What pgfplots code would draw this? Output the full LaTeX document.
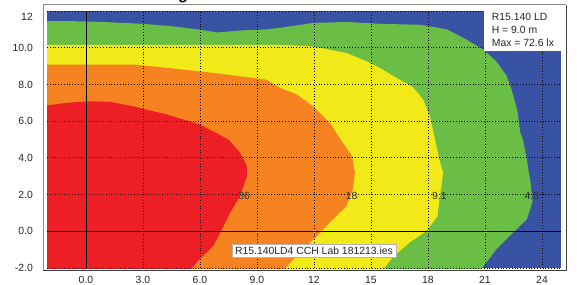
\documentclass[border=0pt]{standalone}
\usepackage{pgfplots}
\pgfplotsset{compat=1.18}
\usepackage{fontspec}
\setmainfont{Liberation Sans}
\definecolor{cblue}{RGB}{57,83,164}
\definecolor{cgreen}{RGB}{106,189,69}
\definecolor{cyellow}{RGB}{241,233,24}
\definecolor{corange}{RGB}{246,130,32}
\definecolor{cred}{RGB}{237,31,36}
\newcommand{\fsz}{\fontsize{10.4}{12}\selectfont}
\begin{document}
\begin{tikzpicture}[x=1pt,y=1pt]
\path[use as bounding box] (0,0) rectangle (577,284);
\node[anchor=base, font=\fontsize{16}{18}\selectfont\bfseries] at (183,284) {g};
\draw[black!45, line width=1pt] (43,14) -- (43,279) -- (566,279);
\draw[black!75, line width=1pt] (43,14) -- (566,14) -- (566,279);
\begin{axis}[at={(47pt,16pt)}, anchor=south west, scale only axis,
  width=514pt, height=257pt,
  xmin=-2.05, xmax=25, ymin=-2, ymax=12,
  axis background/.style={fill=cblue},
  axis line style={draw=none},
  axis on top,
  xtick={0,3,...,24}, xticklabels={0.0,3.0,6.0,9.0,12,15,18,21,24},
  ytick={-2,0,...,10}, yticklabels={-2.0,0.0,2.0,4.0,6.0,8.0,10.0},
  extra y ticks={12}, extra y tick labels={12},
  extra y tick style={grid=major, yticklabel style={yshift=-6pt}},
  major tick length=0pt,
  grid=major,
  grid style={black, line width=0.8pt, dash pattern=on 0.8pt off 2pt},
  tick label style={font=\fsz, text=black!85},
  xticklabel style={anchor=base, yshift=-15pt, inner sep=0pt},
  yticklabel style={anchor=east, xshift=-14pt, inner sep=0pt},
]
% green and above
\addplot[fill=cgreen, draw=none] coordinates {
(-3,11.45) (-1,11.45) (0.5,11.42) (3,11.3) (4.6,11.16) (6,10.98) (6.9,10.83)
(8.1,10.94) (9.5,11.0) (10.2,11.08) (11.95,11.35) (13.7,11.4) (15.5,11.3)
(17.6,11.25) (19.0,11.0) (20.05,10.43) (20.9,9.9) (21.6,9.25) (22.15,8.45)
(22.4,7.7) (22.7,6.6) (22.85,5.4) (23.0,5.0) (23.2,3.9) (23.4,2.6) (23.5,1.6)
(23.2,0.65) (22.5,-0.05) (21.6,-0.98) (20.85,-2) (20.1,-3) (-3,-3)} -- cycle;
% yellow and above
\addplot[fill=cyellow, draw=none] coordinates {
(-3,10.16) (5,10.15) (10.2,10.16) (11.96,10.07) (13.72,9.71) (14.77,9.26)
(15.47,8.9) (16.35,8.35) (17.2,7.86) (17.75,7.17) (18.1,6.27) (18.37,5.0)
(18.6,3.9) (18.8,3.2) (18.7,2.4) (18.6,1.74) (18.5,0.8) (17.9,0) (17.05,-0.6)
(16.2,-1.35) (15.7,-2) (15.2,-3) (-3,-3)} -- cycle;
% orange and above
\addplot[fill=corange, draw=none] coordinates {
(-3,9.08) (2.5,9.08) (4.3,8.9) (6.9,8.6) (9.5,8.26) (10.2,7.82) (11.1,7.45)
(11.96,6.81) (12.84,5.9) (13.4,5.0) (14.0,4.1) (14.15,3.2) (14.05,2.3)
(13.7,1.36) (12.85,0.5) (12.15,-0.27) (11.26,-1.15) (10.5,-2) (9.9,-3) (-3,-3)} -- cycle;
% red
\addplot[fill=cred, draw=none] coordinates {
(-3,6.85) (-2.05,6.85) (-1,7.0) (0.3,7.08) (1.3,7.05) (2.5,6.8) (4.26,6.36)
(6,5.82) (7.5,5.0) (8.1,4.3) (8.47,3.55) (8.47,3.0) (8.1,1.9) (7.58,1.0)
(7.15,0.1) (6.7,-0.8) (6.0,-1.5) (5.57,-2) (5.1,-3) (-3,-3)} -- cycle;
\draw[black, line width=0.9pt] (axis cs:0,-2) -- (axis cs:0,12);
\draw[black, line width=0.9pt] (axis cs:-2.05,0) -- (axis cs:25,0);
\coordinate (c36) at (axis cs:8.33,1.95);
\coordinate (c18) at (axis cs:13.98,1.95);
\coordinate (c91) at (axis cs:18.6,1.95);
\coordinate (c45) at (axis cs:23.46,1.95);
\coordinate (bxA) at (axis cs:20.95,9.84);
\coordinate (bxB) at (axis cs:25,12);
\coordinate (t1) at (axis cs:21.35,11.48);
\coordinate (t2) at (axis cs:21.35,10.76);
\coordinate (t3) at (axis cs:21.35,10.04);
\coordinate (lb) at (axis cs:12.0,-1.06);
\end{axis}
\fill[white] (bxA) rectangle (bxB);
\node[anchor=base west, inner sep=0pt, font=\fsz, text=black!85] at (t1) {R15.140 LD};
\node[anchor=base west, inner sep=0pt, font=\fsz, text=black!85] at (t2) {H = 9.0 m};
\node[anchor=base west, inner sep=0pt, font=\fsz, text=black!85] at (t3) {Max = 72.6 lx};
\node[fill=white, draw=black!30, line width=0.4pt, inner xsep=3pt, inner ysep=2.5pt, font=\fsz, text=black!85] at (lb) {R15.140LD4 CCH Lab 181213.ies};
\node[font=\fsz, text=black!80] at (c36) {36};
\node[font=\fsz, text=black!80] at (c18) {18};
\node[font=\fsz, text=black!80] at (c91) {9.1};
\node[font=\fsz, text=black!80] at (c45) {4.5};
\end{tikzpicture}
\end{document}
